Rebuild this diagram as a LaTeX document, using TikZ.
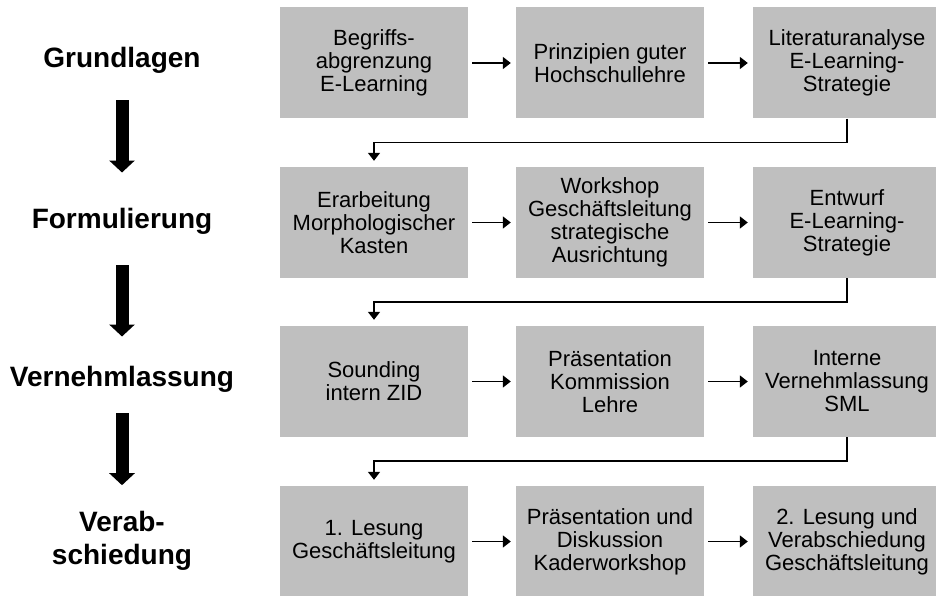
\documentclass[tikz,border=0pt]{standalone}
\usepackage{fontspec}
\setmainfont{Liberation Sans}
\usepackage{tikz}
\usetikzlibrary{arrows.meta}
\usetikzlibrary{calc}
\tikzstyle{stage}=[rectangle,fill=black!25,minimum width=188pt,minimum height=111pt,inner sep=0pt,align=center,font=\fontsize{22}{23}\selectfont]
\tikzstyle{phase}=[inner sep=0pt,align=center,font=\fontsize{28}{33}\selectfont\bfseries]
\tikzstyle{edge} = [draw,line width=1.6pt,-{Triangle[width=12pt,length=8pt]}]
\tikzstyle{bigedge} = [draw,line width=13pt,-{Triangle[width=25pt,length=12pt]}]

\begin{document}
\begin{tikzpicture}[x=1pt,y=-1pt]
   \useasboundingbox (0,0) rectangle (936,596);

   % phases
   \node[phase,anchor=base] (grund) at (122,68) {Grundlagen};
   \node[phase,anchor=base] (form) at (122,228) {Formulierung};
   \node[phase,anchor=base] (vern) at (122,386) {Vernehmlassung};
   \node[phase] (verabsch) at (122,541) {Verab-\\schiedung};

   \path[bigedge,shorten <=26pt,shorten >=35pt] (grund) -- (form);
   \path[bigedge,shorten <=31pt,shorten >=29pt] (form) -- (vern);
   \path[bigedge,shorten <=21pt,shorten >=26pt] (vern) -- (verabsch);


   \def\dy{63};
    \foreach \pos/\name/\label in {{(374,\dy)/abgr/{Begriffs-\\abgrenzung\\E-Learning}}, {(610,\dy)/prinz/{Prinzipien guter\\Hochschullehre}}, {(847,\dy)/lit/{Literaturanalyse\\E-Learning-\\Strategie}}}
            \node[stage] (\name) at \pos {\label};

   \def\dy{222.5};
    \foreach \pos/\name/\label in {{(374,\dy)/morph/{Erarbeitung\\Morphologischer\\Kasten}}, {(610,\dy)/work/{Workshop\\Geschäftsleitung\\strategische\\Ausrichtung}}, {(847,\dy)/entw/{Entwurf\\E-Learning-\\Strategie}}}
            \node[stage] (\name) at \pos {\label};

   \def\dy{381.5};
    \foreach \pos/\name/\label in {{(374,\dy)/sound/{Sounding\\intern ZID}}, {(610,\dy)/praes/{Präsentation\\Kommission\\Lehre}}, {(847,\dy)/intern/{Interne\\Vernehmlassung\\SML}}}
            \node[stage] (\name) at \pos {\label};

   \def\dy{541.5};
    \foreach \pos/\name/\label in {{(374,\dy)/lesA/{1. Lesung\\Geschäftsleitung}}, {(610,\dy)/disk/{Präsentation und\\Diskussion\\Kaderworkshop}}, {(847,\dy)/lesB/{2. Lesung und\\Verabschiedung\\Geschäftsleitung}}}
            \node[stage] (\name) at \pos {\label};


   % steps within a phase
    \foreach \source/ \dest in {abgr/prinz, prinz/lit, morph/work, work/entw, sound/praes, praes/intern, lesA/disk, disk/lesB}
        \path[edge,shorten <=4pt,shorten >=5pt] (\source) -- (\dest);

   % from one phase to the next
    \foreach \source/ \dest in {lit/morph, entw/sound, intern/lesA}
        \path[edge,shorten >=6pt] (\source.south) -- ++(0,24) -| (\dest.north);

   \end{tikzpicture}
\end{document}
